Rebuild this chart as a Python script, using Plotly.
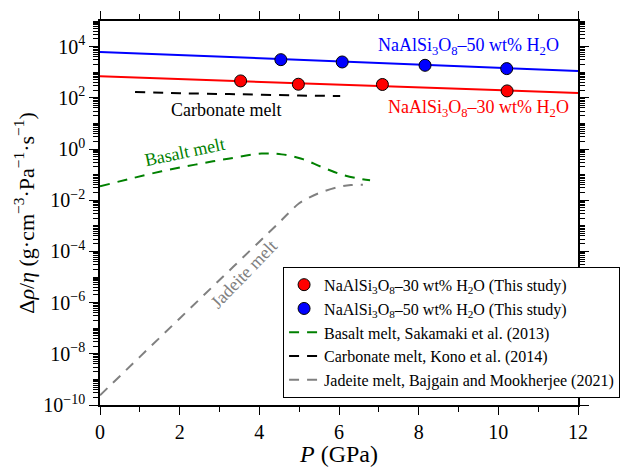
import plotly.graph_objects as go

# ---- data ----
P_30 = [3.53, 4.98, 7.09, 10.22]
V_30 = [457, 339, 331, 186]
P_50 = [4.54, 6.08, 8.16, 10.21]
V_50 = [3090, 2510, 1860, 1380]

fit_P = [0, 12]
fit_30 = [690, 155]
fit_50 = [6200, 1120]

carb_P = [0.88, 2.0, 3.43, 5.0, 6.03]
carb_V = [170, 151, 138, 123, 117]

bas_P = [0, 0.71, 1.55, 2.39, 3.22, 4.06, 4.56, 5.06, 5.56, 6.07, 6.57, 6.78]
bas_V = [0.0347, 0.066, 0.135, 0.245, 0.417, 0.66, 0.617, 0.417, 0.2, 0.1, 0.066, 0.060]

jad_P = [0, 1, 2, 3, 4, 4.5, 4.75, 5.0, 5.25, 5.5, 6.0, 6.3, 6.6]
jad_V = [2.4e-10, 7.6e-9, 2.4e-7, 7.6e-6, 2.4e-4, 1.35e-3, 3.3e-3, 7.6e-3,
         1.26e-2, 1.9e-2, 3.3e-2, 3.9e-2, 4.0e-2]

y_tickvals = [1e-10, 1e-8, 1e-6, 1e-4, 1e-2, 1e0, 1e2, 1e4]
y_ticktext = ["10<sup>−10</sup>", "10<sup>−8</sup>", "10<sup>−6</sup>", "10<sup>−4</sup>",
              "10<sup>−2</sup>", "10<sup>0</sup>", "10<sup>2</sup>", "10<sup>4</sup>"]

FONT = "Liberation Serif"
RED, BLUE, GREEN, GRAY = "#ff0000", "#0000ff", "#008000", "#808080"

fig = go.Figure()

fig.add_trace(go.Scatter(x=fit_P, y=fit_50, mode="lines", line=dict(color=BLUE, width=2),
                         showlegend=False, hoverinfo="skip"))
fig.add_trace(go.Scatter(x=fit_P, y=fit_30, mode="lines", line=dict(color=RED, width=2),
                         showlegend=False, hoverinfo="skip"))

fig.add_trace(go.Scatter(x=bas_P, y=bas_V, mode="lines", line=dict(color=GREEN, width=2, dash="10px,8px", shape="spline"),
                         name="Basalt melt, Sakamaki et al. (2013)", legendrank=3))
fig.add_trace(go.Scatter(x=carb_P, y=carb_V, mode="lines", line=dict(color="black", width=2, dash="10px,8px", shape="spline"),
                         name="Carbonate melt, Kono et al. (2014)", legendrank=4))
fig.add_trace(go.Scatter(x=jad_P, y=jad_V, mode="lines", line=dict(color=GRAY, width=2, dash="10px,8px", shape="spline"),
                         name="Jadeite melt, Bajgain and Mookherjee (2021)", legendrank=5))

fig.add_trace(go.Scatter(x=P_30, y=V_30, mode="markers",
                         marker=dict(color=RED, size=12, line=dict(color="black", width=1)),
                         name="NaAlSi<sub>3</sub>O<sub>8</sub>–30 wt% H<sub>2</sub>O (This study)", legendrank=1))
fig.add_trace(go.Scatter(x=P_50, y=V_50, mode="markers",
                         marker=dict(color=BLUE, size=12, line=dict(color="black", width=1)),
                         name="NaAlSi<sub>3</sub>O<sub>8</sub>–50 wt% H<sub>2</sub>O (This study)", legendrank=2))

annos = [
    dict(x=9.24, y=4.0, text="NaAlSi<sub>3</sub>O<sub>8</sub>–50 wt% H<sub>2</sub>O", color=BLUE, angle=0),
    dict(x=9.49, y=1.58, text="NaAlSi<sub>3</sub>O<sub>8</sub>–30 wt% H<sub>2</sub>O", color=RED, angle=0),
    dict(x=3.16, y=1.54, text="Carbonate melt", color="black", angle=0),
    dict(x=2.13, y=-0.12, text="Basalt melt", color=GREEN, angle=-12),
    dict(x=3.62, y=-4.9, text="Jadeite melt", color=GRAY, angle=-46),
]
for a in annos:
    fig.add_annotation(x=a["x"], y=a["y"], xref="x", yref="y", text=a["text"], showarrow=False,
                       textangle=a["angle"], font=dict(family=FONT, size=18, color=a["color"]))

fig.update_layout(
    width=624, height=467,
    margin=dict(l=100, r=46, t=21, b=62, autoexpand=False),
    paper_bgcolor="white", plot_bgcolor="white",
    font=dict(family=FONT, size=18, color="black"),
    showlegend=True,
    legend=dict(x=0.383, y=0.36, xanchor="left", yanchor="top",
                bgcolor="white", bordercolor="black", borderwidth=1,
                font=dict(family=FONT, size=16, color="black"),
                tracegroupgap=0, itemwidth=30),
)

fig.update_xaxes(
    range=[0, 12], dtick=2, tick0=0,
    showline=True, linecolor="black", linewidth=1.5, mirror="allticks",
    ticks="outside", ticklen=8, tickwidth=1, tickcolor="black",
    minor=dict(dtick=1, ticks="outside", ticklen=5, tickcolor="black"),
    showgrid=False, zeroline=False,
    tickfont=dict(family=FONT, size=20),
    title=dict(text="<i>P</i> (GPa)", font=dict(family=FONT, size=24), standoff=4),
)
fig.update_yaxes(
    type="log", range=[-10, 5], tickmode="array", tickvals=y_tickvals, ticktext=y_ticktext,
    showline=True, linecolor="black", linewidth=1.5, mirror="allticks",
    ticks="outside", ticklen=9, tickwidth=1, tickcolor="black",
    minor=dict(dtick="D1", ticks="outside", ticklen=5, tickcolor="black"),
    showgrid=False, zeroline=False,
    tickfont=dict(family=FONT, size=20),
    title=dict(text="Δ<i>ρ</i>/<i>η</i> (g·cm<sup>−3</sup>·Pa<sup>−1</sup>·s<sup>−1</sup>)",
               font=dict(family=FONT, size=22), standoff=3),
)

fig.write_html("out.html")
